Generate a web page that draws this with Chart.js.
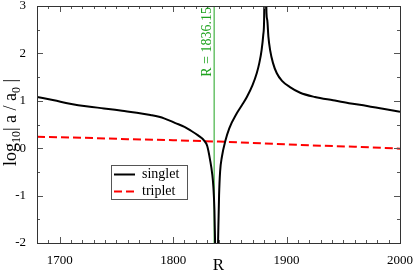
<!DOCTYPE html>
<html>
<head>
<meta charset="utf-8">
<script src="https://cdn.jsdelivr.net/npm/chart.js@4/dist/chart.umd.min.js"></script>
<style>
html,body{margin:0;padding:0;background:#fff;}
canvas{display:block;}
</style>
</head>
<body>
<canvas id="c" width="415" height="272"></canvas>
<script>
// ---- data ----
const singletR = [1680,1695,1709,1725,1739,1755,1768,1780,1792,1802,1810,1815,1822,1827,1830,1832.6,1834.5,1835.5,1836.4,1837.0,1838.3,1839.6,1840.5,1841.4,1843,1846,1849.5,1856,1861,1865,1870,1873.7,1876,1878,1879.5,1880.2,1880.8,1881.6,1882.3,1883,1884,1885.5,1888,1891.4,1896,1903,1912,1925,1941,1955,1971,1985,2000];
const singletV = [1.08,1.01,0.94,0.88,0.84,0.79,0.75,0.70,0.63,0.53,0.45,0.38,0.27,0.17,0.05,-0.25,-0.55,-0.82,-1.3,-2.0,-3.5,-2.0,-1.0,-0.5,-0.18,0.15,0.42,0.73,0.92,1.08,1.33,1.58,1.80,2.07,2.40,2.70,4.0,4.0,2.85,2.70,2.35,2.07,1.80,1.58,1.42,1.29,1.17,1.08,1.01,0.95,0.89,0.83,0.77];
const tripletR = [1680,1720,1760,1800,1840,1880,1920,1960,2000];
const tripletV = [0.24,0.22,0.19,0.17,0.14,0.10,0.06,0.03,-0.01];
const markerR = 1836.15;
const markerLabel = "R = 1836.15";
const seriesNames = ["singlet","triplet"];
const xTickValues = [1700,1800,1900,2000];
const yTickValues = [-2,-1,0,1,2,3];
const xMin = 1680, xMax = 2000, xMajor = 100, xMinor = 10;
const yMin = -2, yMax = 3, yMajor = 1, yMinor = 0.5;
const xTitle = "R";

const SERIF = '"Liberation Serif","Times New Roman",serif';
const pts = (xs, ys) => xs.map((x,i)=>({x:x,y:ys[i]}));

const framePlugin = {
  id:'frame',
  afterDatasetsDraw(chart){
    const {ctx, chartArea:a, scales:{x,y}} = chart;
    ctx.save();
    // ticks (inward)
    ctx.strokeStyle = '#555';
    ctx.lineWidth = 1;
    ctx.beginPath();
    for (let v = xMin; v <= xMax + 1e-9; v += xMinor) {
      const px = Math.round(x.getPixelForValue(v)) + 0.5;
      const major = Math.abs(v/xMajor - Math.round(v/xMajor)) < 1e-6;
      const L = major ? 6 : 3;
      ctx.moveTo(px, a.bottom); ctx.lineTo(px, a.bottom - L);
      ctx.moveTo(px, a.top); ctx.lineTo(px, a.top + L);
    }
    for (let v = yMin; v <= yMax + 1e-9; v += yMinor) {
      const py = Math.round(y.getPixelForValue(v)) + 0.5;
      const major = Math.abs(v/yMajor - Math.round(v/yMajor)) < 1e-6;
      const L = major ? 6 : 3;
      ctx.moveTo(a.left, py); ctx.lineTo(a.left + L, py);
      ctx.moveTo(a.right, py); ctx.lineTo(a.right - L, py);
    }
    ctx.stroke();
    // frame
    ctx.strokeStyle = '#333';
    ctx.strokeRect(Math.round(a.left)+0.5, Math.round(a.top)+0.5, Math.round(a.right-a.left), Math.round(a.bottom-a.top));

    // marker label
    const mx = x.getPixelForValue(markerR);
    ctx.save();
    ctx.translate(mx - 3, a.top + 1);
    ctx.rotate(-Math.PI/2);
    ctx.fillStyle = '#1fa31f';
    ctx.font = '14px ' + SERIF;
    ctx.textAlign = 'right';
    ctx.textBaseline = 'alphabetic';
    ctx.fillText(markerLabel, 0, 0);
    ctx.restore();

    // legend
    const lx = 111, ly = 165, lw = 76, lh = 34;
    ctx.fillStyle = '#fff';
    ctx.fillRect(lx, ly, lw, lh);
    ctx.strokeStyle = '#555';
    ctx.lineWidth = 1;
    ctx.strokeRect(lx+0.5, ly+0.5, lw, lh);
    ctx.font = '14px ' + SERIF;
    ctx.textBaseline = 'middle';
    ctx.textAlign = 'left';
    [0,1].forEach(i=>{
      const ds = chart.data.datasets[i];
      const yy = ly + 9.5 + i*17;
      ctx.beginPath();
      ctx.strokeStyle = ds.borderColor;
      ctx.lineWidth = ds.borderWidth;
      ctx.setLineDash(ds.borderDash || []);
      ctx.moveTo(lx+3, yy); ctx.lineTo(lx+24, yy);
      ctx.stroke();
      ctx.setLineDash([]);
      ctx.fillStyle = '#000';
      ctx.fillText(ds.label, lx+31, yy);
    });

    // x title
    ctx.fillStyle = '#000';
    ctx.font = '17px ' + SERIF;
    ctx.textAlign = 'center';
    ctx.textBaseline = 'alphabetic';
    ctx.fillText(xTitle, (a.left + a.right)/2, 270);

    // y title: log10| a / a0 |
    const parts = [
      {t:'log', f:18, dy:0},
      {t:'10', f:12, dy:4},
      {t:'| a / a', f:18, dy:0},
      {t:'0', f:12, dy:4},
      {t:' |', f:18, dy:0}
    ];
    let total = 0;
    parts.forEach(p=>{ctx.font = p.f+'px '+SERIF; p.w = ctx.measureText(p.t).width; total += p.w;});
    ctx.save();
    ctx.translate(16, 122.5 + total/2);
    ctx.rotate(-Math.PI/2);
    ctx.textAlign = 'left';
    let cx = 0;
    parts.forEach(p=>{ctx.font = p.f+'px '+SERIF; ctx.fillText(p.t, cx, p.dy); cx += p.w;});
    ctx.restore();
    ctx.restore();
  }
};

new Chart(document.getElementById('c'), {
  type: 'scatter',
  data: {
    datasets: [
      {label: seriesNames[0], data: pts(singletR, singletV), showLine: true, borderColor: '#000', borderWidth: 2, pointRadius: 0, cubicInterpolationMode: 'monotone', clip: 0, order: 1},
      {label: seriesNames[1], data: pts(tripletR, tripletV), showLine: true, borderColor: '#ff0000', borderWidth: 2, borderDash: [8,4], pointRadius: 0, clip: 0, order: 2},
      {label: 'marker', data: [{x: markerR, y: yMin}, {x: markerR, y: yMax}], showLine: true, borderColor: '#1fa31f', borderWidth: 1, pointRadius: 0, clip: 0, order: 3}
    ]
  },
  options: {
    responsive: false,
    animation: false,
    devicePixelRatio: 1,
    layout: {padding: {left: 0, right: 15, top: 6, bottom: 0}},
    plugins: {legend: {display: false}, tooltip: {enabled: false}},
    scales: {
      x: {
        type: 'linear', min: xMin, max: xMax,
        grid: {display: false}, border: {display: false},
        afterBuildTicks: s => {s.ticks = xTickValues.map(v => ({value: v}));},
        ticks: {autoSkip: false, color: '#000', font: {family: SERIF, size: 13}, padding: 2, maxRotation: 0,
          callback: v => String(v)},
        afterFit: s => {s.height = 29; s.paddingLeft = 0; s.paddingRight = 0;}
      },
      y: {
        min: yMin, max: yMax,
        grid: {display: false}, border: {display: false},
        afterBuildTicks: s => {s.ticks = yTickValues.map(v => ({value: v}));},
        ticks: {autoSkip: false, color: '#000', font: {family: SERIF, size: 13}, padding: 3},
        afterFit: s => {s.width = 37; s.paddingTop = 0; s.paddingBottom = 0;}
      }
    }
  },
  plugins: [framePlugin]
});
</script>
</body>
</html>
